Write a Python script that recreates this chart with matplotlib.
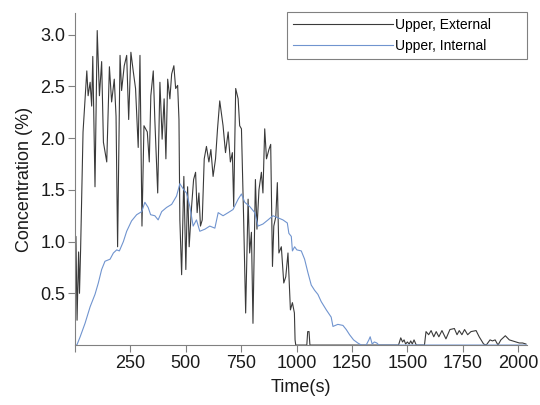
import matplotlib
matplotlib.use('Agg')
from matplotlib import pyplot as plt

plt.rcParams['font.family'] = ['Liberation Sans', 'DejaVu Sans']

# Upper, External
ext_time = [0, 4, 9, 16, 20, 25, 36, 53, 59, 68, 75, 80, 90, 100, 110, 120,
            128, 143, 155, 165, 177, 185, 192, 203, 210, 222, 233, 242, 252,
            263, 273, 285, 293, 302, 311, 326, 335, 342, 353, 360, 373, 383,
            393, 402, 410, 418, 428, 436, 446, 454, 463, 469, 473, 481, 491,
            500, 508, 515, 526, 535, 544, 551, 559, 566, 574, 583, 593, 604,
            613, 623, 634, 643, 653, 668, 679, 691, 701, 710, 716, 725, 736,
            743, 751, 761, 770, 781, 788, 796, 803, 814, 821, 830, 841, 848,
            856, 864, 875, 883, 891, 897, 906, 913, 920, 931, 942, 951, 961,
            972, 981, 990, 993, 996, 1046, 1050, 1056, 1060, 1460, 1470, 1478,
            1485, 1492, 1500, 1508, 1515, 1522, 1530, 1540, 1577, 1584, 1596,
            1607, 1619, 1630, 1642, 1656, 1674, 1692, 1712, 1724, 1734, 1746,
            1758, 1772, 1787, 1810, 1824, 1844, 1856, 1873, 1884, 1896, 1909,
            1922, 1942, 1960, 1975, 1990, 2005, 2020, 2035]
ext_conc = [0, 1.05, 0.24, 0.9, 0.5, 0.92, 2.06, 2.65, 2.41, 2.54, 2.31, 2.79,
            1.53, 3.04, 2.41, 2.74, 1.96, 1.77, 2.69, 2.35, 2.57, 2.21, 0.95,
            2.80, 2.46, 2.70, 2.80, 2.18, 2.83, 2.64, 2.48, 1.91, 2.80, 1.15,
            2.12, 2.06, 1.77, 2.41, 2.65, 2.18, 1.47, 2.54, 1.99, 2.38, 1.80,
            2.57, 2.38, 2.62, 2.70, 2.48, 2.51, 2.18, 1.21, 0.68, 1.63, 0.73,
            1.53, 0.95, 1.34, 1.60, 1.67, 1.28, 1.47, 1.15, 1.21, 1.80, 1.92,
            1.77, 1.89, 1.63, 1.80, 2.09, 2.36, 2.12, 1.86, 2.06, 1.77, 1.86,
            1.34, 2.48, 2.38, 2.12, 2.09, 1.21, 0.31, 1.41, 0.89, 1.09, 0.21,
            1.60, 1.12, 1.50, 1.67, 1.47, 2.09, 1.80, 1.89, 1.94, 0.76, 1.15,
            1.24, 1.57, 0.89, 0.95, 0.60, 0.66, 0.89, 0.34, 0.41, 0.31, 0.05,
            0, 0, 0.13, 0.13, 0, 0, 0.07, 0.03, 0.05, 0.01, 0.03, 0.01, 0.04,
            0.01, 0.05, 0, 0, 0.13, 0.10, 0.14, 0.08, 0.13, 0.08, 0.14, 0.06,
            0.15, 0.16, 0.10, 0.14, 0.10, 0.15, 0.10, 0.13, 0.14, 0.08, 0.01,
            0, 0.05, 0.04, 0.05, 0, 0.05, 0.09, 0.05, 0.04, 0.03, 0.02, 0.02,
            0.01]

# Upper, Internal
int_time = [0, 8, 23, 45, 68, 90, 105, 120, 135, 158, 173, 188, 200, 218,
            233, 255, 278, 301, 315, 330, 341, 360, 375, 391, 413, 436, 458,
            473, 491, 503, 518, 533, 548, 563, 586, 608, 631, 646, 668, 691,
            713, 736, 751, 766, 788, 811, 826, 848, 871, 893, 916, 938, 958,
            965, 976, 981, 991, 1001, 1021, 1036, 1051, 1066, 1081, 1096, 1111,
            1134, 1156, 1164, 1186, 1209, 1224, 1239, 1257, 1276, 1292, 1314,
            1326, 1332, 1341, 1351, 1362, 1371, 2040]
int_conc = [0, 0, 0.08, 0.21, 0.37, 0.49, 0.60, 0.73, 0.81, 0.83, 0.89, 0.92,
            0.91, 1.00, 1.10, 1.20, 1.26, 1.29, 1.38, 1.33, 1.26, 1.25, 1.21,
            1.29, 1.33, 1.36, 1.44, 1.56, 1.50, 1.47, 1.34, 1.15, 1.21, 1.10,
            1.12, 1.15, 1.13, 1.28, 1.25, 1.28, 1.31, 1.41, 1.46, 1.38, 1.34,
            1.28, 1.15, 1.17, 1.21, 1.25, 1.23, 1.21, 1.18, 1.08, 1.05, 0.91,
            0.95, 0.92, 0.91, 0.83, 0.70, 0.58, 0.53, 0.49, 0.42, 0.34, 0.27,
            0.18, 0.20, 0.19, 0.15, 0.10, 0.05, 0.02, 0, 0, 0.05, 0.08, 0.01,
            0.03, 0.02, 0, 0]

x_ticks = [0, 250, 500, 750, 1000, 1250, 1500, 1750, 2000]
x_labels = ['', '250', '500', '750', '1000', '1250', '1500', '1750', '2000']
y_ticks = [0.5, 1.0, 1.5, 2.0, 2.5, 3.0]

fig = plt.figure(figsize=(5.4, 4.05), dpi=100)
ax = fig.add_axes([0.139, 0.148, 0.837, 0.82])

ax.plot(ext_time, ext_conc, color='#3a3a3a', lw=0.8, label='Upper, External')
ax.plot(int_time, int_conc, color='#7094cf', lw=0.8, label='Upper, Internal')

ax.set_xlim(0, 2040)
ax.set_ylim(0, 3.21)
ax.set_xticks(x_ticks)
ax.set_xticklabels(x_labels)
ax.set_yticks(y_ticks)
ax.set_yticklabels(['%.1f' % v for v in y_ticks])

for side in ['top', 'right']:
    ax.spines[side].set_visible(False)
for side in ['left', 'bottom']:
    ax.spines[side].set_color('#808080')
ax.tick_params(axis='both', direction='out', length=5, pad=2, color='#808080',
               labelsize=13, labelcolor='#1a1a1a')

ax.set_xlabel('Time(s)', fontsize=13, color='#1a1a1a', labelpad=5)
ax.set_ylabel('Concentration (%)', fontsize=13, color='#1a1a1a', labelpad=5)

leg = ax.legend(loc='upper right', bbox_to_anchor=(0.469, 0.86, 0.531, 0.143),
                mode='expand', fontsize=10, handlelength=7.2,
                handletextpad=0.2, borderaxespad=0, fancybox=False,
                framealpha=1, borderpad=0.4, labelspacing=0.55)
leg.get_frame().set_edgecolor('#808080')
leg.get_frame().set_linewidth(0.8)

fig.savefig('out.png', dpi=100)
